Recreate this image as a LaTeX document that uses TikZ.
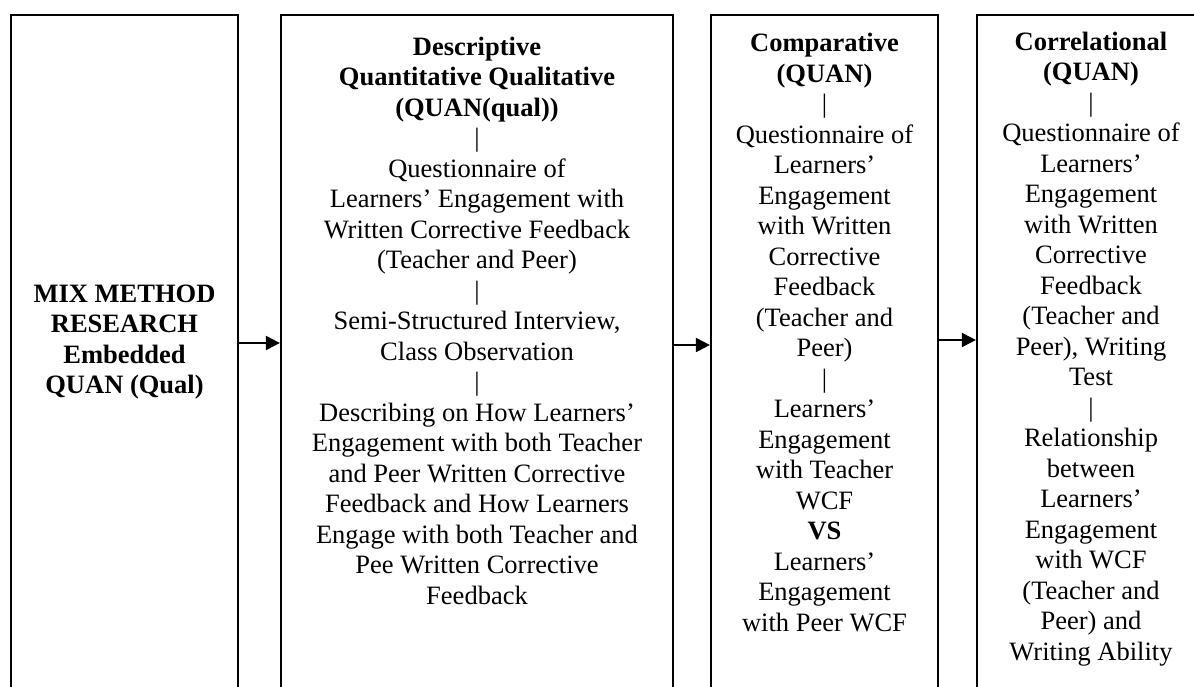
\documentclass[tikz,border=0pt]{standalone}
\usepackage{fontspec}
\setmainfont{Liberation Serif}
\usetikzlibrary{arrows.meta,fit}
\begin{document}
\begin{tikzpicture}[x=0.5pt,y=-0.5pt,
  panel/.style={draw=black,line width=1.1pt,inner sep=0pt},
  label/.style={align=center,inner sep=0pt,anchor=north,
    font=\fontsize{13.25}{15.25}\selectfont},
  boldlabel/.style={label,font=\fontsize{13.25}{15.25}\selectfont\bfseries},
  link/.style={line width=1pt,-{Triangle[length=7pt,width=7pt]}}]
\useasboundingbox (0,0) rectangle (1194,686);
\clip (0,0) rectangle (1194,686);

% four tall panels running off the lower edge
\node[panel,fit={(11,15)(238,720)}] (p1) {};
\node[panel,fit={(281,15)(673,720)}] (p2) {};
\node[panel,fit={(711,15)(938,720)}] (p3) {};
\node[panel,fit={(977,15)(1205,720)}] (p4) {};

% panel texts
\node[boldlabel] (t1) at (124.5,280.6) {\strut MIX METHOD\\RESEARCH\\Embedded\\QUAN (Qual)};

\node[label] (t2) at (477,33.6) {\strut\textbf{Descriptive}\\\textbf{Quantitative Qualitative}\\\textbf{(QUAN(qual))}\\|\\Questionnaire of\\Learners’ Engagement with\\Written Corrective Feedback\\(Teacher and Peer)\\|\\Semi-Structured Interview,\\Class Observation\\|\\Describing on How Learners’\\Engagement with both Teacher\\and Peer Written Corrective\\Feedback and How Learners\\Engage with both Teacher and\\Pee Written Corrective\\Feedback};

\node[label] (t3) at (824.5,30.2) {\strut\textbf{Comparative}\\\textbf{(QUAN)}\\|\\Questionnaire of\\Learners’\\Engagement\\with Written\\Corrective\\Feedback\\(Teacher and\\Peer)\\|\\Learners’\\Engagement\\with Teacher\\WCF\\\textbf{VS}\\Learners’\\Engagement\\with Peer WCF};

\node[label] (t4) at (1091,28.7) {\strut\textbf{Correlational}\\\textbf{(QUAN)}\\|\\Questionnaire of\\Learners’\\Engagement\\with Written\\Corrective\\Feedback\\(Teacher and\\Peer), Writing\\Test\\|\\Relationship\\between\\Learners’\\Engagement\\with WCF\\(Teacher and\\Peer) and\\Writing Ability};

% connectors between neighbouring panels
\coordinate (h1) at (0,343);
\coordinate (h2) at (0,345);
\coordinate (h3) at (0,340);
\draw[link] (p1.east |- h1) -- (p2.west |- h1);
\draw[link] (p2.east |- h2) -- (p3.west |- h2);
\draw[link] (p3.east |- h3) -- (p4.west |- h3);
\end{tikzpicture}
\end{document}
